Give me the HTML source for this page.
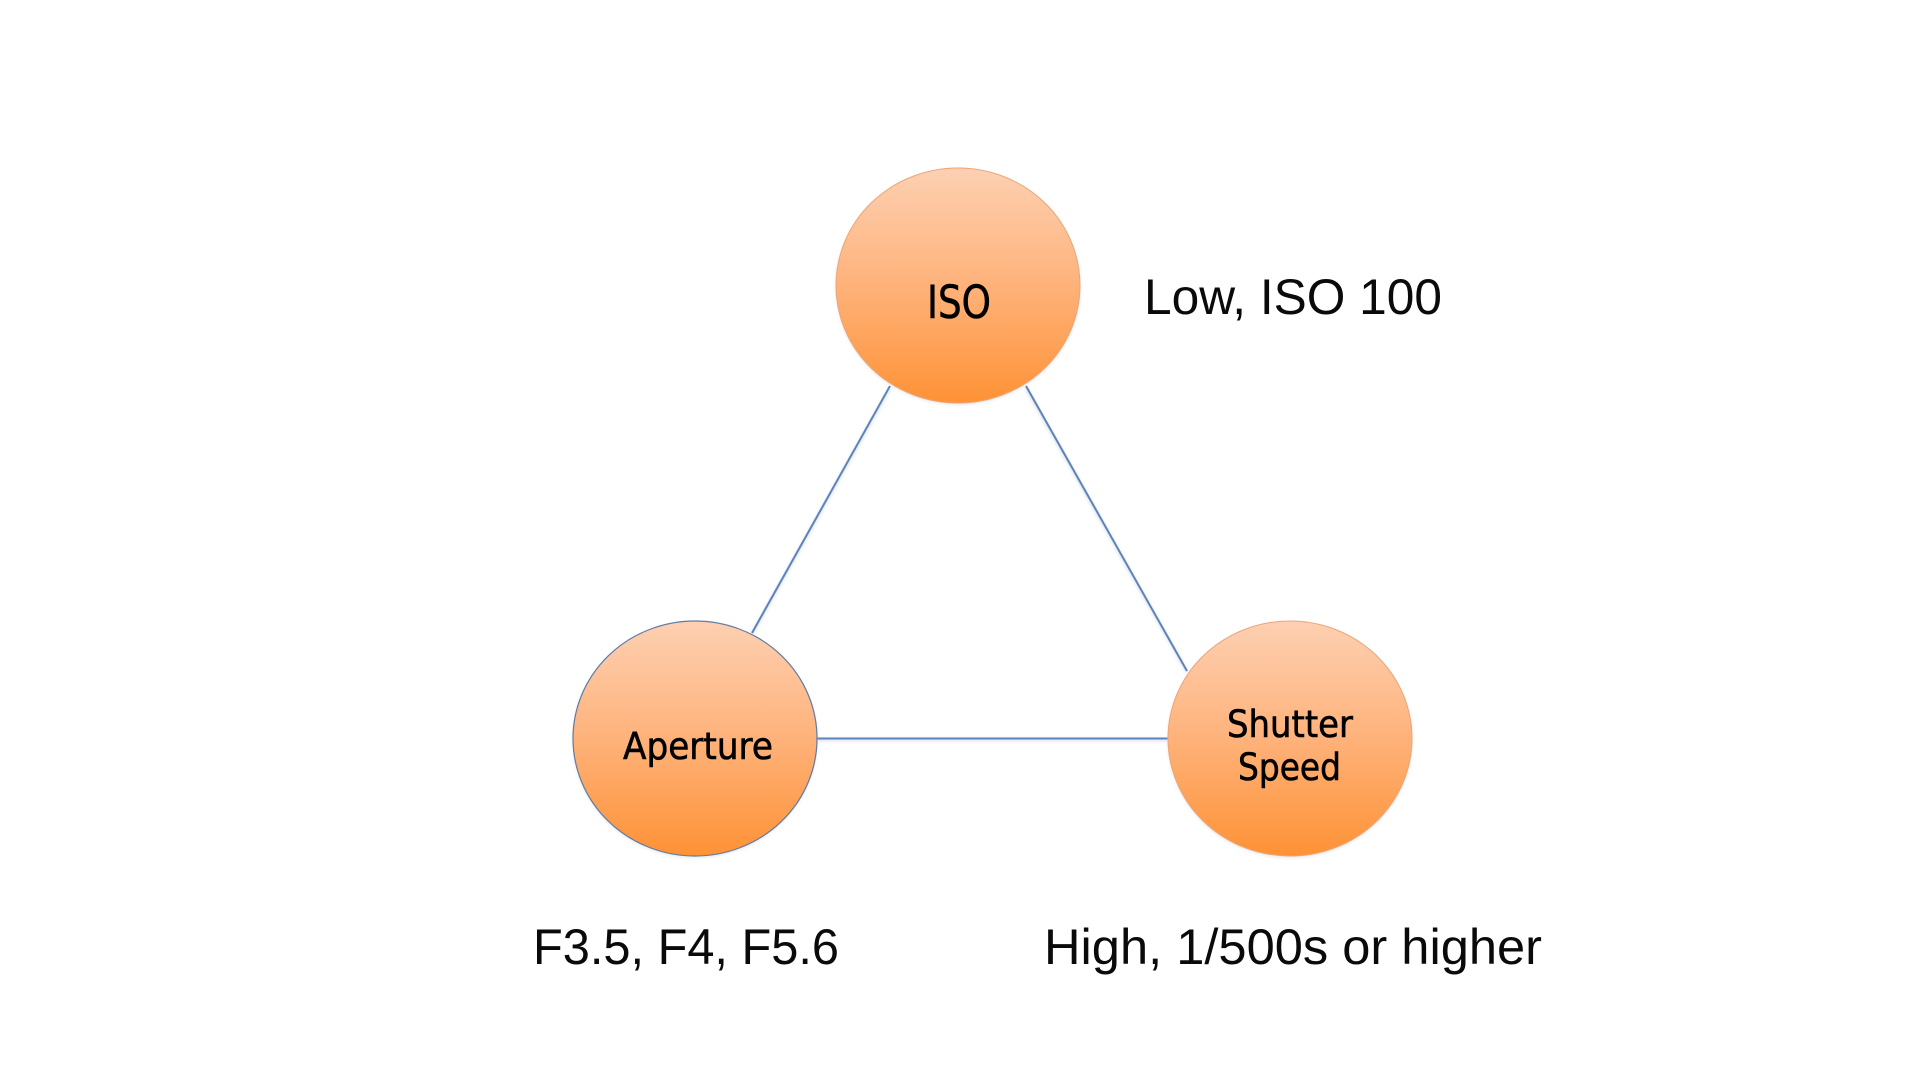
<!DOCTYPE html>
<html>
<head>
<meta charset="utf-8">
<style>
html,body{margin:0;padding:0;background:#fff;width:1920px;height:1080px;overflow:hidden}
svg{display:block}
.big{font-family:"Liberation Sans",sans-serif;font-size:50px;fill:#0a0a0a}
.node{font-family:"DejaVu Sans",sans-serif;fill:#000;stroke:#000;stroke-width:.6px}
</style>
</head>
<body>
<svg width="1920" height="1080" viewBox="0 0 1920 1080" xmlns="http://www.w3.org/2000/svg">
<defs>
<linearGradient id="g" x1="0" y1="0" x2="0" y2="1">
<stop offset="0" stop-color="#fdd0b2"/>
<stop offset=".5" stop-color="#feb27a"/>
<stop offset="1" stop-color="#fe9236"/>
</linearGradient>
<filter id="s" x="-10%" y="-10%" width="120%" height="120%">
<feGaussianBlur stdDeviation="1.5"/>
</filter>
</defs>
<g stroke="#a9bcd8" stroke-width="2" filter="url(#s)" opacity=".6">
<line x1="890" y1="388" x2="752" y2="634"/>
<line x1="1026" y1="388" x2="1187" y2="672"/>
<line x1="817" y1="740" x2="1168" y2="740"/>
</g>
<g stroke="#5d83b8" stroke-width="2">
<line x1="890" y1="386" x2="752" y2="633"/>
<line x1="1026" y1="386" x2="1187" y2="671"/>
<line x1="817" y1="738.500" x2="1168" y2="738.500"/>
</g>
<g fill="#c9c9c9" filter="url(#s)" opacity=".5">
<ellipse cx="958" cy="287" rx="122" ry="117.500"/>
<ellipse cx="695" cy="740" rx="122" ry="117.500"/>
<ellipse cx="1290" cy="740" rx="122" ry="117.500"/>
</g>
<ellipse cx="958" cy="285.500" rx="122" ry="117.500" fill="url(#g)" stroke="#eba577" stroke-width="1"/>
<ellipse cx="695" cy="738.500" rx="122" ry="117.500" fill="url(#g)" stroke="#5f7ba6" stroke-width="1.200"/>
<ellipse cx="1290" cy="738.500" rx="122" ry="117.500" fill="url(#g)" stroke="#eba577" stroke-width="1"/>

<text class="node" x="927" y="318" font-size="45" textLength="64" lengthAdjust="spacingAndGlyphs">ISO</text>
<text class="node" x="623" y="759" font-size="37" textLength="150" lengthAdjust="spacingAndGlyphs">Aperture</text>
<text class="node" x="1227" y="737" font-size="37" textLength="126" lengthAdjust="spacingAndGlyphs">Shutter</text>
<text class="node" x="1238" y="780" font-size="37" textLength="103" lengthAdjust="spacingAndGlyphs">Speed</text>

<text class="big" x="1144" y="314" textLength="298" lengthAdjust="spacingAndGlyphs">Low, ISO 100</text>
<text class="big" x="533" y="964" textLength="306" lengthAdjust="spacingAndGlyphs">F3.5, F4, F5.6</text>
<text class="big" x="1044" y="964" textLength="498" lengthAdjust="spacingAndGlyphs">High, 1/500s or higher</text>
</svg>
</body>
</html>
